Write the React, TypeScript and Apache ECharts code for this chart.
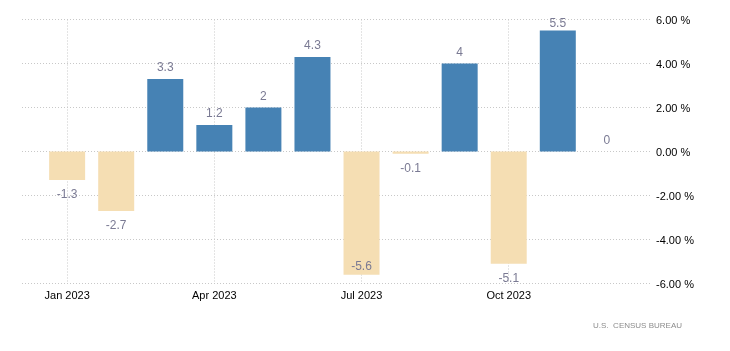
import React, { useEffect, useRef } from "react";
import * as echarts from "echarts";

const categories = [
  "Jan 2023", "Feb 2023", "Mar 2023", "Apr 2023", "May 2023", "Jun 2023",
  "Jul 2023", "Aug 2023", "Sep 2023", "Oct 2023", "Nov 2023", "Dec 2023",
];
const values = [-1.3, -2.7, 3.3, 1.2, 2, 4.3, -5.6, -0.1, 4, -5.1, 5.5, 0];
const tickLabels = ["Jan 2023", "Apr 2023", "Jul 2023", "Oct 2023"];
const yTicks = [-6, -4, -2, 0, 2, 4, 6];
const sourceText = "U.S.  CENSUS BUREAU";

const POS_COLOR = "#4682B4";
const NEG_COLOR = "#F5DEB3";
const GRID_COLOR = "#c8c8c8";
const FONT = "Liberation Sans, Arial, sans-serif";

export default function App() {
  const ref = useRef<HTMLDivElement>(null);

  useEffect(() => {
    if (!ref.current) return;
    const chart = echarts.init(ref.current, undefined, { renderer: "svg" });
    const yMin = yTicks[0];
    const yMax = yTicks[yTicks.length - 1];
    const tickIdx = tickLabels.map((t) => categories.indexOf(t));
    const data = values.map((v, i) => {
      let position = v < 0 ? "bottom" : "top";
      let distance = v < 0 ? 8 : 6;
      if (v < 0 && v < yMin + 0.6) {
        position = "insideBottom";
        distance = 3;
      } else if (v >= 0 && v > yMax - 0.6) {
        distance = 2;
      }
      return {
        value: [i, v],
        itemStyle: { color: v < 0 ? NEG_COLOR : POS_COLOR },
        label: { position, distance },
      };
    });
    chart.setOption({
      animation: false,
      grid: { left: 22, right: 78, top: 19.5, bottom: 67.5, containLabel: false },
      xAxis: {
        type: "value",
        min: -0.92,
        max: 11.92,
        axisLine: { show: false },
        axisTick: {
          show: true,
          length: 3,
          customValues: tickIdx,
          lineStyle: { color: GRID_COLOR, type: [1, 2] },
        },
        axisLabel: {
          customValues: tickIdx,
          formatter: (v: number) => categories[Math.round(v)] ?? "",
          color: "#000",
          fontSize: 11,
          fontFamily: FONT,
          margin: 6,
        },
        splitLine: {
          show: true,
          lineStyle: { color: GRID_COLOR, type: [1, 2], width: 1 },
        },
      },
      yAxis: {
        type: "value",
        position: "right",
        min: yMin,
        max: yMax,
        interval: 2,
        axisLine: { show: false },
        axisTick: { show: false },
        axisLabel: {
          formatter: (v: number) => v.toFixed(2) + " %",
          color: "#000",
          fontSize: 11,
          fontFamily: FONT,
          margin: 4,
        },
        splitLine: {
          show: true,
          lineStyle: { color: GRID_COLOR, type: [1, 2], width: 1 },
        },
      },
      series: [
        {
          type: "bar",
          barWidth: 36,
          data,
          label: {
            show: true,
            color: "#7a7a93",
            fontSize: 12,
            fontFamily: FONT,
            formatter: (p: any) => String(p.value[1]),
          },
        },
      ],
      graphic: [
        {
          type: "text",
          right: 48,
          top: 321,
          style: {
            text: sourceText,
            fill: "#8c8c8c",
            fontSize: 8,
            fontFamily: FONT,
          },
        },
      ],
    });
    return () => chart.dispose();
  }, []);

  return (
    <div
      ref={ref}
      style={{ position: "fixed", left: 0, top: 0, width: 730, height: 351 }}
    />
  );
}
